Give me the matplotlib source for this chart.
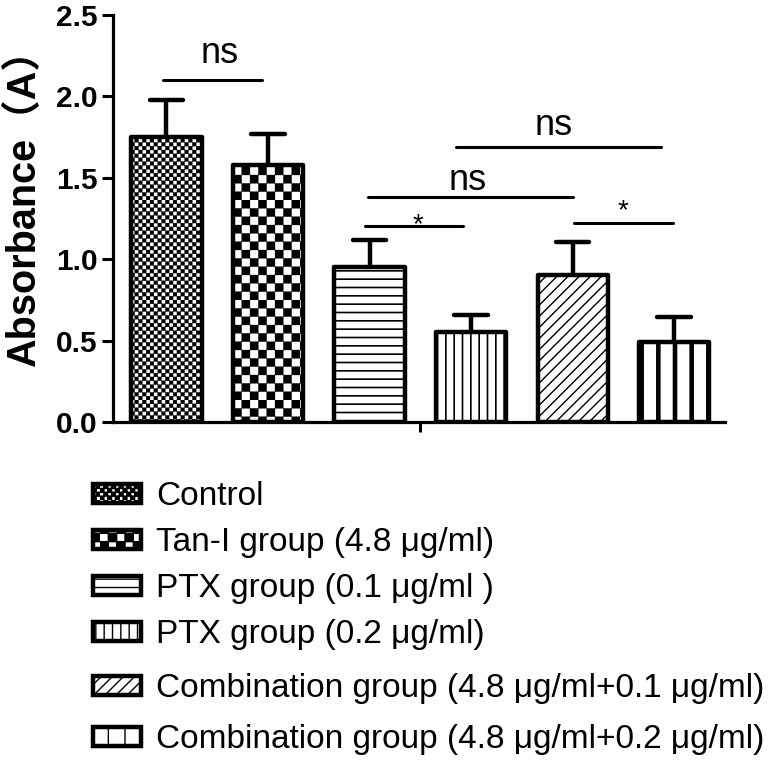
import warnings
warnings.filterwarnings("ignore")
import numpy as np
import matplotlib
matplotlib.use("Agg")
import matplotlib.pyplot as plt
import matplotlib.hatch as mhatch
from matplotlib.path import Path

# ---------------- data ----------------
groups = [
    "Control",
    "Tan-I group (4.8 μg/ml)",
    "PTX group (0.1 μg/ml )",
    "PTX group (0.2 μg/ml)",
    "Combination group (4.8 μg/ml+0.1 μg/ml)",
    "Combination group (4.8 μg/ml+0.2 μg/ml)",
]
means = [1.75, 1.58, 0.95, 0.55, 0.90, 0.49]
errors = [0.225, 0.19, 0.17, 0.11, 0.205, 0.155]
yticks = [0.0, 0.5, 1.0, 1.5, 2.0, 2.5]
ytick_labels = ["0.0", "0.5", "1.0", "1.5", "2.0", "2.5"]

# significance annotations: (bar i, bar j, line height, label)
comparisons = [
    (0, 1, 2.10, "ns"),
    (2, 3, 1.205, "*"),
    (2, 4, 1.382, "ns"),
    (3, 5, 1.689, "ns"),
    (4, 5, 1.222, "*"),
]
# layout tweaks for the annotations (start trim, end trim, text dx, text y)
comp_layout = [
    (-0.03, -0.06, 0.065, 2.205),
    (-0.04, -0.08, 0.04, 1.167),
    (-0.015, 0.005, -0.03, 1.425),
    (-0.15, -0.13, -0.05, 1.763),
    (0.01, -0.01, 0.0, 1.253),
]

# ---------------- styles ----------------
hatches = ["o", "O", "--", "||", "///", "|"]
hatch_lws = [0.2, 0.2, 1.2, 1.2, 1.0, 3.3]


# custom checkerboard hatches (replace the circle hatches 'o' / 'O')
def make_checker(char, cells):
    class Checker(mhatch.HatchPatternBase):
        def __init__(self, hatch, density):
            self.on = hatch.count(char) > 0
            self.num_vertices = (cells * cells // 2) * 5 if self.on else 0

        def set_vertices_and_codes(self, vertices, codes):
            s = 1.0 / cells
            k = 0
            for i in range(cells):
                for j in range(cells):
                    if (i + j) % 2 == 0:
                        x0, y0 = i * s, j * s
                        vertices[k:k + 5] = [(x0, y0), (x0 + s, y0), (x0 + s, y0 + s),
                                             (x0, y0 + s), (x0, y0)]
                        codes[k:k + 5] = [Path.MOVETO, Path.LINETO, Path.LINETO,
                                          Path.LINETO, Path.CLOSEPOLY]
                        k += 5
    return Checker


mhatch._hatch_types = [mhatch.HorizontalHatch, mhatch.VerticalHatch,
                       mhatch.NorthEastHatch, mhatch.SouthEastHatch,
                       make_checker("o", 26), make_checker("O", 12)]

plt.rcParams["font.family"] = ["Liberation Sans", "Noto Sans CJK SC", "DejaVu Sans"]

fig = plt.figure(figsize=(7.68, 7.6), dpi=100)
ax = fig.add_axes([113 / 768, 1 - 422 / 760, (725 - 113) / 768, (422 - 15) / 760])

x = np.arange(len(groups))
means_a = np.array(means)
errs_a = np.array(errors)

bars = ax.bar(x, means_a, width=0.69, color="white", edgecolor="black",
              linewidth=3.2, zorder=3)
for patch, h, hlw, lab in zip(bars.patches, hatches, hatch_lws, groups):
    patch.set_hatch(h)
    patch.set_joinstyle("round")
    patch.set_label(lab)
    if hasattr(patch, "set_hatch_linewidth"):
        patch.set_hatch_linewidth(hlw)

# error bars (upper only)
ax.vlines(x, means_a, means_a + errs_a, colors="black", linewidth=3.2, zorder=2)
ax.hlines(means_a + errs_a, x - 0.164, x + 0.164, colors="black", linewidth=3.2,
          capstyle="round", zorder=2)

# significance lines
for (i, j, yl, lab), (t0, t1, dx, yt) in zip(comparisons, comp_layout):
    x0, x1 = x[i] + t0, x[j] + t1
    ax.plot([x0, x1], [yl, yl], color="black", linewidth=2.2,
            solid_capstyle="round", zorder=4)
    ax.text((x0 + x1) / 2 + dx, yt, lab, ha="center", va="baseline",
            fontsize=26 if lab == "ns" else 20, color="black")

ax.set_xlim(-0.527, 5.502)
ax.set_ylim(0, 2.5)
ax.set_yticks(yticks, ytick_labels)
ax.set_xticks([x.mean()], [""])
for lbl in ax.get_yticklabels():
    lbl.set_fontweight("bold")
    lbl.set_fontsize(21.5)
ax.tick_params(axis="y", direction="out", length=8, width=2.2, pad=3)
ax.tick_params(axis="x", direction="out", length=7, width=2.2)
for s in ["top", "right"]:
    ax.spines[s].set_visible(False)
for s in ["left", "bottom"]:
    ax.spines[s].set_linewidth(2.3)

ax.set_ylabel("Absorbance（A）", fontsize=28.5, fontweight="bold")
ax.yaxis.set_label_coords(-0.116, 0.55)

handles = list(bars.patches)
common = dict(loc="upper left", frameon=False, fontsize=24, handlelength=1.45,
              handleheight=0.5, handletextpad=0.45,
              borderpad=0, borderaxespad=0)
fig.legend(handles[:4], groups[:4], bbox_to_anchor=(93 / 768, 1 - 481 / 760),
           labelspacing=0.45, **common)
fig.legend(handles[4:], groups[4:], bbox_to_anchor=(93 / 768, 1 - 673 / 760),
           labelspacing=0.6, **common)

fig.savefig("out.png", dpi=100)
